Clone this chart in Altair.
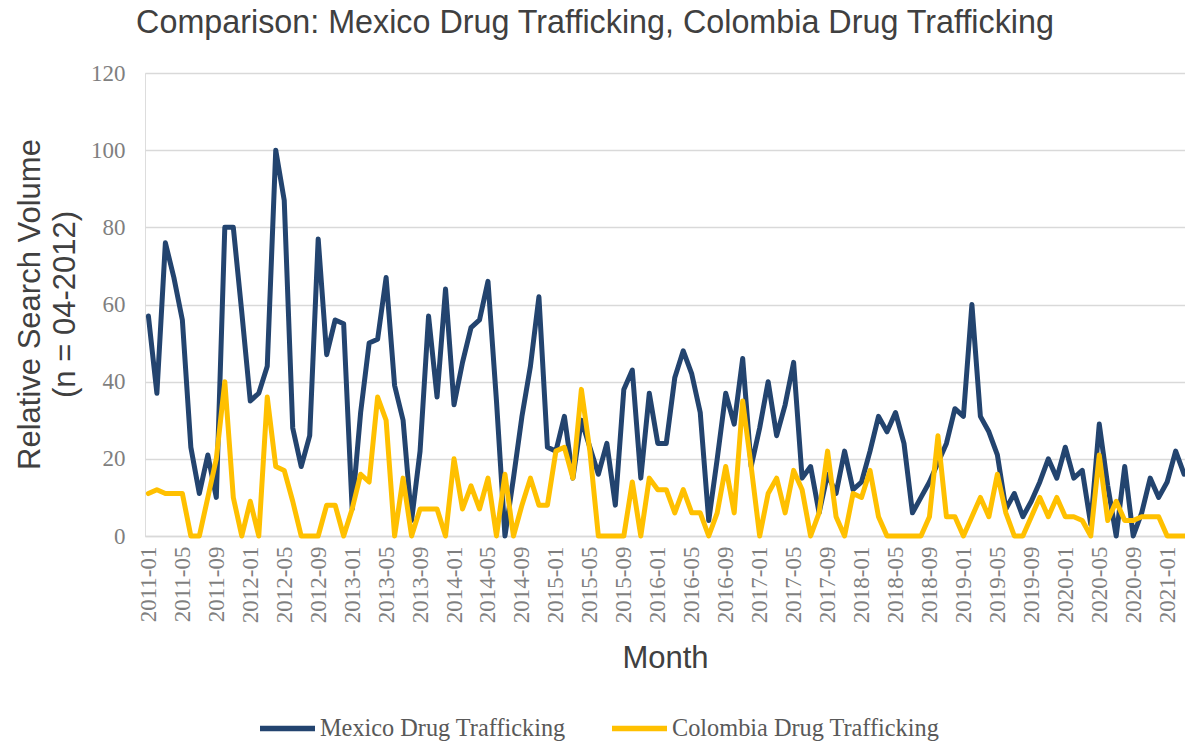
import altair as alt
import pandas as pd

# Monthly categories, 2011-01 through 2021-03
months = pd.date_range("2011-01-01", periods=123, freq="MS").strftime("%Y-%m").tolist()

# Relative search volume (100 = peak in 04-2012)
mexico = [
    57, 37, 76, 67, 56, 23, 11, 21, 10, 80, 80, 58,
    35, 37, 44, 100, 87, 28, 18, 26, 77, 47, 56, 55,
    7, 32, 50, 51, 67, 39, 30, 4, 22, 57, 36, 64,
    34, 45, 54, 56, 66, 35, 0, 15, 31, 44, 62, 23,
    22, 31, 15, 30, 23, 16, 24, 8, 38, 43, 15, 37,
    24, 24, 41, 48, 42, 32, 4, 20, 37, 29, 46, 18,
    28, 40, 26, 34, 45, 15, 18, 6, 16, 11, 22, 12,
    14, 22, 31, 27, 32, 24, 6, 10, 14, 19, 24, 33,
    31, 60, 31, 27, 21, 7, 11, 5, 9, 14, 20, 15,
    23, 15, 17, 3, 29, 13, 0, 18, 0, 6, 15, 10,
    14, 22, 16,
]
colombia = [
    11, 12, 11, 11, 11, 0, 0, 10, 20, 40, 10, 0,
    9, 0, 36, 18, 17, 9, 0, 0, 0, 8, 8, 0,
    7, 16, 14, 36, 30, 0, 15, 0, 7, 7, 7, 0,
    20, 7, 13, 7, 15, 0, 16, 0, 8, 15, 8, 8,
    22, 23, 15, 38, 22, 0, 0, 0, 0, 14, 0, 15,
    12, 12, 6, 12, 6, 6, 0, 6, 18, 6, 35, 18,
    0, 11, 15, 6, 17, 12, 0, 6, 22, 5, 0, 11,
    10, 17, 5, 0, 0, 0, 0, 0, 5, 26, 5, 5,
    0, 5, 10, 5, 16, 6, 0, 0, 5, 10, 5, 10,
    5, 5, 4, 0, 21, 4, 9, 4, 4, 5, 5, 5,
    0, 0, 0,
]

series_names = ["Mexico Drug Trafficking", "Colombia Drug Trafficking"]
series_colors = ["#23446F", "#FFC000"]
y_ticks = [0, 20, 40, 60, 80, 100, 120]
x_ticks = list(range(0, len(months), 4))

rows = []
for name, values in zip(series_names, [mexico, colombia]):
    for i, (m, v) in enumerate(zip(months, values)):
        rows.append({"month": m, "idx": i, "series": name, "value": v})
df = pd.DataFrame(rows)

month_label_expr = "[" + ",".join(f"'{m}'" for m in months) + "][datum.value]"

chart = (
    alt.Chart(df)
    .mark_line(strokeWidth=5, strokeJoin="round", strokeCap="round")
    .encode(
        x=alt.X(
            "idx:Q",
            scale=alt.Scale(domain=[-0.4, 122.1], nice=False, zero=False),
            axis=alt.Axis(
                values=x_ticks,
                labelExpr=month_label_expr,
                labelAngle=270,
                labelFont="Liberation Serif",
                labelFontSize=23,
                labelColor="#7F7F7F",
                labelPadding=10,
                labelOverlap=False,
                labelBound=False,
                labelFlush=False,
                grid=False,
                ticks=False,
                domainColor="#D9D9D9",
                domainWidth=1.5,
                title="Month",
                titleFont="Liberation Sans",
                titleFontSize=31,
                titleFontWeight="normal",
                titleColor="#404040",
                titleBaseline="middle",
                titleY=122,
            ),
        ),
        y=alt.Y(
            "value:Q",
            scale=alt.Scale(domain=[0, 120], nice=False),
            axis=alt.Axis(
                values=y_ticks,
                labelFont="Liberation Serif",
                labelFontSize=23,
                labelColor="#7F7F7F",
                labelPadding=20,
                ticks=False,
                domain=False,
                gridColor="#D9D9D9",
                gridWidth=1.5,
                title=["Relative Search Volume", "(n = 04-2012)"],
                titleFont="Liberation Sans",
                titleFontSize=31,
                titleFontWeight="normal",
                titleColor="#404040",
                titleAngle=270,
                titleAlign="center",
                titleBaseline="middle",
                titleLineHeight=35,
                titleX=-115,
                titleY=231,
            ),
        ),
        color=alt.Color(
            "series:N",
            scale=alt.Scale(domain=series_names, range=series_colors),
            legend=alt.Legend(
                orient="none",
                legendX=112,
                legendY=625,
                direction="horizontal",
                title=None,
                symbolType="stroke",
                symbolSize=3025,
                symbolStrokeWidth=5.5,
                labelFont="Liberation Serif",
                labelFontSize=24.3,
                labelColor="#595959",
                labelOffset=2,
                labelLimit=0,
                columnPadding=35,
                padding=0,
            ),
        ),
        order="idx:Q",
    )
    .properties(
        width=1040,
        height=463,
        padding={"left": 145, "top": 73, "right": 0, "bottom": 209},
        autosize=alt.AutoSizeParams(type="none"),
        title=alt.TitleParams(
            text="Comparison: Mexico Drug Trafficking, Colombia Drug Trafficking",
            font="Liberation Sans",
            fontSize=32.3,
            fontWeight="normal",
            color="#404040",
            anchor="middle",
            frame="group",
            dx=-70,
            dy=31,
            offset=28,
            baseline="alphabetic",
        ),
    )
    .configure_view(stroke=None)
    .configure(background="white")
)

chart.save("out.html", embed_options={"renderer": "svg", "actions": False})
